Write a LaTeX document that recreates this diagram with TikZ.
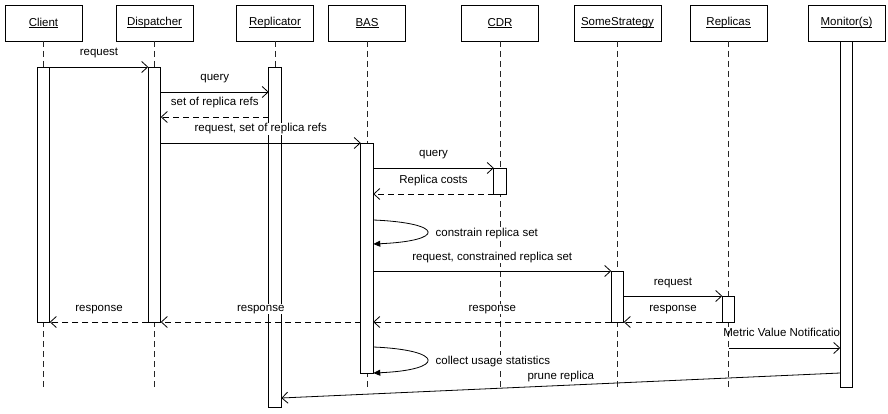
\documentclass[tikz,border=0pt]{standalone}
\usepackage{fontspec}
\setmainfont{Liberation Sans}
\usetikzlibrary{arrows.meta}

% underline close to the baseline, also under descenders
\newcommand{\actorname}[1]{\setbox0\hbox{#1}\rlap{\rule[-1.4pt]{\wd0}{0.7pt}}\box0}

\begin{document}
\begin{tikzpicture}[x=1pt, y=-1pt, line width=0.8pt]
	% Define styles
	\tikzstyle{every node}=[font=\fontsize{11.5}{13}\selectfont]
	\tikzstyle{actor} = [rectangle, draw, fill=white, minimum width=77pt,
	minimum height=36pt, inner sep=0pt, outer sep=0pt]
	\tikzstyle{bar} = [rectangle, draw, fill=white, minimum width=12.5pt,
	inner sep=0pt, outer sep=0pt, anchor=north]
	\tikzstyle{lifeline} = [dash pattern=on 6pt off 4pt, black!85]
	\tikzstyle{call} = [->, >={Straight Barb[length=6pt,width=11pt]}]
	\tikzstyle{reply} = [call, dash pattern=on 6pt off 4pt] % return message
	\tikzstyle{selfcall} = [-{Triangle[length=7pt,width=6pt]}]
	\tikzstyle{msg} = [midway, anchor=base, yshift=11pt, fill=white, inner sep=1pt]
	\tikzstyle{note} = [pos=0.5, anchor=base west, xshift=7pt, yshift=-4pt, fill=white, inner sep=1pt]
	
	\useasboundingbox (0,0) rectangle (888,414);
	
	% Place nodes
	\node [actor] (client) at (43.5,23) {\actorname{Client}};
	\node [actor] (dispatcher) at (154.5,23) {\actorname{Dispatcher}};
	\node [actor] (replicator) at (275,23) {\actorname{Replicator}};
	\node [actor] (bas) at (367,23) {\actorname{BAS}};
	\node [actor] (cdr) at (500,23) {\actorname{CDR}};
	\node [actor, minimum width=87pt] (strategy) at (617.5,23) {\actorname{SomeStrategy}};
	\node [actor] (replicas) at (728.5,23) {\actorname{Replicas}};
	\node [actor] (monitor) at (846.5,23) {\actorname{Monitor(s)}};
	
	% Lifelines
	\foreach \n in {client, dispatcher, bas, cdr, strategy, replicas}
		\draw [lifeline] (\n.south) -- (\n |- 0,387);
	\draw [lifeline] (replicator.south) -- (replicator |- 0,410);
	
	% Activation bars
	\node [bar, minimum height=255pt] (clientbar) at (client |- 0,67) {};
	\node [bar, minimum height=255pt] (dispatcherbar) at (dispatcher |- 0,67) {};
	\node [bar, minimum height=340pt] (replicatorbar) at (replicator |- 0,67) {};
	\node [bar, minimum height=230pt] (basbar) at (bas |- 0,143) {};
	\node [bar, minimum height=26pt] (cdrbar) at (cdr |- 0,168) {};
	\node [bar, minimum height=51pt] (strategybar) at (strategy |- 0,271) {};
	\node [bar, minimum height=26pt] (replicasbar) at (replicas |- 0,296) {};
	
	% Draw arrows
	\draw [call] (clientbar.east |- 0,67) -- (dispatcherbar.west |- 0,67) node [msg] {request};
	\draw [call] (dispatcherbar.east |- 0,92) -- (replicatorbar.west |- 0,92) node [msg] {query};
	\draw [reply] (replicatorbar.west |- 0,117) -- (dispatcherbar.east |- 0,117) node [msg] {set of replica refs};
	\draw [call] (dispatcherbar.east |- 0,143) -- (basbar.west |- 0,143) node [msg] {request, set of replica refs};
	\draw [call] (basbar.east |- 0,168) -- (cdrbar.west |- 0,168) node [msg] {query};
	\draw [reply] (cdrbar.west |- 0,194) -- (basbar.east |- 0,194) node [msg] {Replica costs};
	\draw [selfcall] (basbar.east |- 0,220) .. controls +(72,3) and +(72,-3) .. (basbar.east |- 0,244)
		node [note] {constrain replica set};
	\draw [call] (basbar.east |- 0,271) -- (strategybar.west |- 0,271) node [msg] {request, constrained replica set};
	\draw [call] (strategybar.east |- 0,296) -- (replicasbar.west |- 0,296) node [msg] {request};
	\draw [reply] (replicasbar.west |- 0,322) -- (strategybar.east |- 0,322) node [msg] {response};
	\draw [reply] (strategybar.west |- 0,322) -- (basbar.east |- 0,322) node [msg] {response};
	\draw [reply] (basbar.west |- 0,322) -- (dispatcherbar.east |- 0,322) node [msg] {response};
	\draw [reply] (dispatcherbar.west |- 0,322) -- (clientbar.east |- 0,322) node [msg] {response};
	\draw [selfcall] (basbar.east |- 0,347) .. controls +(72,3) and +(72,-3) .. (basbar.east |- 0,373)
		node [note] {collect usage statistics};
	
	% Monitor bar covers the end of the notification text
	\node [anchor=base west, inner sep=0pt] (metric) at (723,336) {Metric Value Notification};
	\node [bar, minimum height=346pt] (monitorbar) at (monitor.south) {};
	\draw [call] (replicas |- 0,348) -- (monitorbar.west |- 0,348);
	\draw [call] (monitorbar.west |- 0,373) -- (replicatorbar.east |- 0,398)
		node [midway, anchor=base, yshift=6.5pt, fill=white, inner sep=1pt] {prune replica};
\end{tikzpicture}
\end{document}
